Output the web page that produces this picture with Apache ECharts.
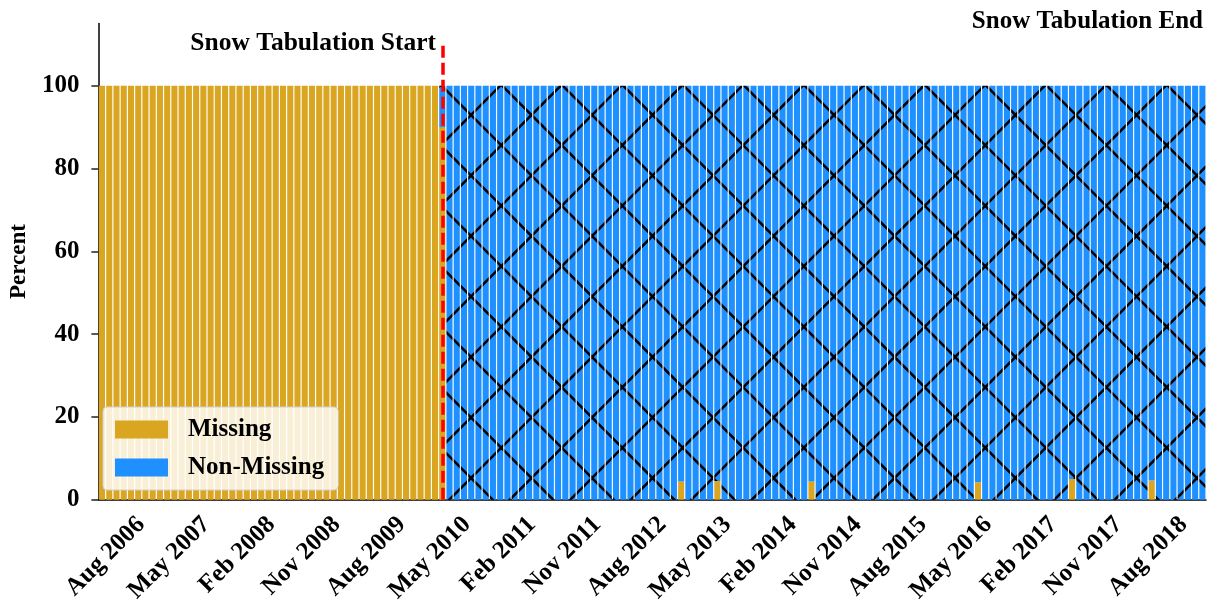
<!DOCTYPE html>
<html>
<head>
<meta charset="utf-8">
<script src="https://cdn.jsdelivr.net/npm/echarts@6/dist/echarts.min.js"></script>
<style>
  html, body { margin: 0; padding: 0; background: #ffffff; }
  #chart { width: 1207px; height: 606px; }
</style>
</head>
<body>
<div id="chart"></div>
<script>
// Monthly categories, Feb 2006 .. Oct 2018
const MONTHS = ['Jan','Feb','Mar','Apr','May','Jun','Jul','Aug','Sep','Oct','Nov','Dec'];
const categories = [];
for (let y = 2006; y <= 2018; y++) {
  for (let m = 0; m < 12; m++) {
    if (y === 2006 && m < 1) continue;
    if (y === 2018 && m > 9) break;
    categories.push(MONTHS[m] + ' ' + y);
  }
}

// Percent of days missing per month, one row per year
const missingPct = [].concat(
  /* 2006 Feb-Dec */ [100,100,100,100,100,100,100,100,100,100,100],
  /* 2007 */ [100,100,100,100,100,100,100,100,100,100,100,100],
  /* 2008 */ [100,100,100,100,100,100,100,100,100,100,100,100],
  /* 2009 */ [100,100,100,100,100,100,100,100,100,100,100,100],
  /* 2010 */ [90,0,0,0,0,0,0,0,0,0,0,0],
  /* 2011 */ [0,0,0,0,0,0,0,0,0,0,0,0],
  /* 2012 */ [0,0,0,0,0,0,0,0,0,4.4,0,0],
  /* 2013 */ [0,0,4.5,0,0,0,0,0,0,0,0,0],
  /* 2014 */ [0,0,0,4.4,0,0,0,0,0,0,0,0],
  /* 2015 */ [0,0,0,0,0,0,0,0,0,0,0,0],
  /* 2016 */ [0,0,4.2,0,0,0,0,0,0,0,0,0],
  /* 2017 */ [0,0,0,5.0,0,0,0,0,0,0,0,0],
  /* 2018 Jan-Oct */ [0,0,4.6,0,0,0,0,0,0,0]
);
const nonMissingPct = missingPct.map(v => +(100 - v).toFixed(1));

const yTicks = [0, 20, 40, 60, 80, 100];
const startMonth = 'Jan 2010';
const startLineTop = 110;
const firstLabelMonth = 'Aug 2006';
const labelStep = 9;

const FONT = '"Liberation Serif", "Times New Roman", serif';
const GOLD = '#DAA520';
const BLUE = '#1E90FF';

// Cross-hatch tile for the Non-Missing bars (two periods per tile so it wraps cleanly)
function makeHatch() {
  const period = 60.5, size = 121;
  const cv = document.createElement('canvas');
  cv.width = size; cv.height = size;
  const ctx = cv.getContext('2d');
  ctx.fillStyle = BLUE;
  ctx.fillRect(0, 0, size, size);
  ctx.strokeStyle = '#000000';
  ctx.lineWidth = 2.6;
  const c1 = 53.5, c2 = 41.5; // line offsets: x - y = c1, x + y = c2 (mod period)
  ctx.beginPath();
  for (let k = -6; k <= 6; k++) {
    const a = c1 + k * period;
    ctx.moveTo(a - 200, -200); ctx.lineTo(a + 400, 400);
    const b = c2 + k * period;
    ctx.moveTo(b + 200, -200); ctx.lineTo(b - 400, 400);
  }
  ctx.stroke();
  return cv;
}

const firstIdx = categories.indexOf(firstLabelMonth);
const showIdx = (i) => i >= firstIdx && (i - firstIdx) % labelStep === 0;

const chart = echarts.init(document.getElementById('chart'), null, { renderer: 'canvas' });
chart.setOption({
  animation: false,
  backgroundColor: '#ffffff',
  grid: { left: 98, right: 1, top: 23.6, bottom: 104, containLabel: false },
  xAxis: {
    type: 'category',
    data: categories,
    boundaryGap: true,
    axisLine: { lineStyle: { color: '#000', width: 1.5 } },
    axisTick: { alignWithLabel: true, interval: (i) => showIdx(i), length: 8, lineStyle: { color: '#222', width: 1.5 } },
    axisLabel: {
      interval: (i) => showIdx(i),
      rotate: 45, margin: 17, padding: [0, 6, 0, 0],
      fontFamily: FONT, fontWeight: 'bold', fontSize: 25, color: '#000'
    },
    splitLine: { show: false }
  },
  yAxis: {
    type: 'value',
    min: 0, max: 115, interval: 20,
    name: 'Percent', nameLocation: 'middle', nameGap: 67, nameRotate: 90,
    nameTextStyle: { fontFamily: FONT, fontWeight: 'bold', fontSize: 23, color: '#000' },
    axisLine: { show: true, lineStyle: { color: '#000', width: 1.5 } },
    axisTick: { show: true, customValues: yTicks, length: 7, lineStyle: { color: '#222', width: 1.5 } },
    axisLabel: { customValues: yTicks, margin: 19, fontFamily: FONT, fontWeight: 'bold', fontSize: 25, color: '#000' },
    splitLine: { show: false }
  },
  legend: {
    orient: 'vertical',
    left: 103, top: 407,
    padding: [10, 14, 10, 12],
    itemWidth: 53, itemHeight: 18, itemGap: 13,
    backgroundColor: 'rgba(255,255,255,0.82)',
    borderColor: '#d0d0d0', borderWidth: 1, borderRadius: 4,
    textStyle: { fontFamily: FONT, fontWeight: 'bold', fontSize: 25, color: '#000', lineHeight: 24, padding: [0, 0, 0, 15] },
    data: [
      { name: 'Missing', icon: 'rect', itemStyle: { color: GOLD } },
      { name: 'Non-Missing', icon: 'rect', itemStyle: { color: BLUE } }
    ]
  },
  series: [
    {
      name: 'Missing', type: 'bar', stack: 'pct',
      data: missingPct,
      barCategoryGap: '16%',
      itemStyle: { color: GOLD },
      emphasis: { disabled: true }
    },
    {
      name: 'Non-Missing', type: 'bar', stack: 'pct',
      data: nonMissingPct,
      barCategoryGap: '16%',
      itemStyle: { color: { image: makeHatch(), repeat: 'repeat' } },
      emphasis: { disabled: true },
      markLine: {
        silent: true, symbol: 'none', z: 10,
        label: { show: false },
        lineStyle: { color: '#FF0000', width: 3.5, type: [12, 5] },
        data: [[ { coord: [startMonth, 0] }, { coord: [startMonth, startLineTop] } ]]
      }
    }
  ],
  graphic: [
    {
      type: 'text', x: 436, y: 43, z: 20,
      style: { text: 'Snow Tabulation Start', fontFamily: FONT, fontWeight: 'bold', fontSize: 25.5, fill: '#000', align: 'right', verticalAlign: 'middle' }
    },
    {
      type: 'text', x: 1203, y: 22, z: 20,
      style: { text: 'Snow Tabulation End', fontFamily: FONT, fontWeight: 'bold', fontSize: 25, fill: '#000', align: 'right', verticalAlign: 'middle' }
    }
  ]
});
</script>
</body>
</html>
